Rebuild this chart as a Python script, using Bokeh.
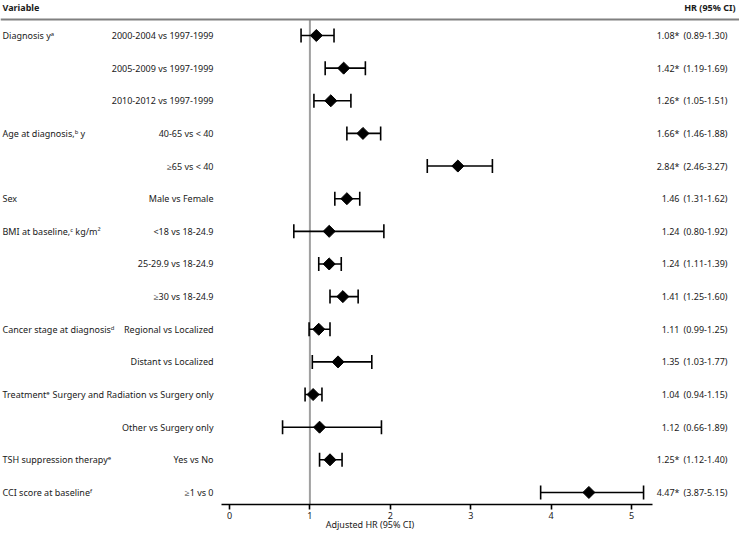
from bokeh.plotting import figure
from bokeh.models import Range1d, Span, FixedTicker, ColumnDataSource
from bokeh.core.properties import value
from bokeh.embed import file_html
from bokeh.resources import INLINE
import math

# ---------------- data ----------------
comparisons = [
    "2000-2004 vs 1997-1999", "2005-2009 vs 1997-1999", "2010-2012 vs 1997-1999",
    "40-65 vs < 40", "\u226565 vs < 40", "Male vs Female",
    "<18 vs 18-24.9", "25-29.9 vs 18-24.9", "\u226530 vs 18-24.9",
    "Regional vs Localized", "Distant vs Localized",
    "Surgery and Radiation vs Surgery only", "Other vs Surgery only",
    "Yes vs No", "\u22651 vs 0",
]
hr = [1.08, 1.42, 1.26, 1.66, 2.84, 1.46, 1.24, 1.24, 1.41, 1.11, 1.35, 1.04, 1.12, 1.25, 4.47]
lo = [0.89, 1.19, 1.05, 1.46, 2.46, 1.31, 0.80, 1.11, 1.25, 0.99, 1.03, 0.94, 0.66, 1.12, 3.87]
hi = [1.30, 1.69, 1.51, 1.88, 3.27, 1.62, 1.92, 1.39, 1.60, 1.25, 1.77, 1.15, 1.89, 1.40, 5.15]
significant = [True, True, True, True, True, False, False, False, False, False, False, False, False, True, True]

variables = [
    "Diagnosis y\u1d43", "Age at diagnosis,\u1d47 y", "Sex", "BMI at baseline,\u1d9c kg/m\u00b2",
    "Cancer stage at diagnosis\u1d48", "Treatment\u1d49", "TSH suppression therapy\u1d49",
    "CCI score at baseline\u1da0",
]
variable_rows = [0, 3, 5, 6, 9, 11, 13, 14]
x_ticks = [0, 1, 2, 3, 4, 5]

# ---------------- layout helpers (pixel positions on the canvas) ----------------
W, FH = 739, 504
ROW_PX = 32.64
ROW0 = 35.0
XU = 80.4
X0 = 229.0


def ypx(cy):
    return (ROW0 - cy) / ROW_PX


def xpx(cx):
    return (cx - X0) / XU


rows = list(range(len(hr)))
ys = [-r for r in rows]
cap = 7.0 / ROW_PX

p = figure(frame_width=W, frame_height=FH,
           x_range=Range1d(xpx(0), xpx(W)),
           y_range=Range1d(ypx(FH), ypx(0)),
           output_backend="svg", toolbar_location=None,
           min_border=0, y_axis_location=None)
p.grid.visible = False
p.outline_line_color = None
p.background_fill_color = "white"
p.border_fill_color = "white"

FONT = value("Noto Sans")
FS = "9px"
TXT = "#1a1a1a"

# separator line under header
sep_y = ypx(19)
p.add_layout(Span(location=sep_y, dimension="width", line_color="#808080", line_width=2))

# reference line at HR = 1
p.segment(x0=[1], y0=[sep_y], x1=[1], y1=[ypx(FH)], line_color="#a0a0a0", line_width=2)

src = ColumnDataSource(dict(
    y=ys, hr=hr, lo=lo, hi=hi,
    ylo=[y - cap for y in ys], yhi=[y + cap for y in ys],
    comp=comparisons,
    hrtxt=[f"{h:.2f}*" if s else f"{h:.2f}" for h, s in zip(hr, significant)],
    citxt=[f"({a:.2f}-{b:.2f})" for a, b in zip(lo, hi)],
))

# CI bars and caps
p.segment(x0="lo", y0="y", x1="hi", y1="y", source=src, line_color="black", line_width=1.6)
p.segment(x0="lo", y0="ylo", x1="lo", y1="yhi", source=src, line_color="black", line_width=1.6)
p.segment(x0="hi", y0="ylo", x1="hi", y1="yhi", source=src, line_color="black", line_width=1.6)
# diamonds
p.scatter(x="hr", y="y", source=src, marker="square", angle=math.pi / 4, size=8.5,
          fill_color="black", line_color="black")

# comparison labels
p.text(x=xpx(213), y="y", text="comp", source=src, text_font=FONT, text_font_size=FS,
       text_align="right", text_baseline="middle", text_color=TXT)
# HR and CI text
p.text(x=xpx(679), y="y", text="hrtxt", source=src, text_font=FONT, text_font_size=FS,
       text_align="right", text_baseline="middle", text_color=TXT)
p.text(x=xpx(683), y="y", text="citxt", source=src, text_font=FONT, text_font_size=FS,
       text_align="left", text_baseline="middle", text_color=TXT)

# variable names
p.text(x=xpx(2), y=[-r for r in variable_rows], text=variables, text_font=FONT,
       text_font_size=FS, text_align="left", text_baseline="middle", text_color=TXT)

# headers
p.text(x=[xpx(2)], y=[ypx(7)], text=["Variable"], text_font=FONT, text_font_size=FS,
       text_font_style="bold", text_align="left", text_baseline="middle", text_color=TXT)
p.text(x=[xpx(735)], y=[ypx(7)], text=["HR (95% CI)"], text_font=FONT, text_font_size=FS,
       text_font_style="bold", text_align="right", text_baseline="middle", text_color=TXT)

# x axis
ax = p.xaxis[0]
ax.ticker = FixedTicker(ticks=x_ticks)
ax.bounds = (xpx(221), xpx(652))
ax.axis_label = "Adjusted HR (95% CI)"
ax.axis_label_text_font = "Noto Sans"
ax.axis_label_text_font_size = FS
ax.axis_label_text_font_style = "normal"
ax.axis_label_text_color = TXT
ax.axis_label_standoff = -4
ax.major_label_text_font = "Noto Sans"
ax.major_label_text_font_size = FS
ax.major_label_text_color = TXT
ax.major_label_standoff = 2
ax.axis_line_color = "black"
ax.axis_line_width = 1.6
ax.major_tick_line_color = "black"
ax.major_tick_line_width = 1.6
ax.major_tick_out = 5
ax.major_tick_in = 0
ax.minor_tick_line_color = None

open("out.html", "w").write(file_html(p, INLINE))
